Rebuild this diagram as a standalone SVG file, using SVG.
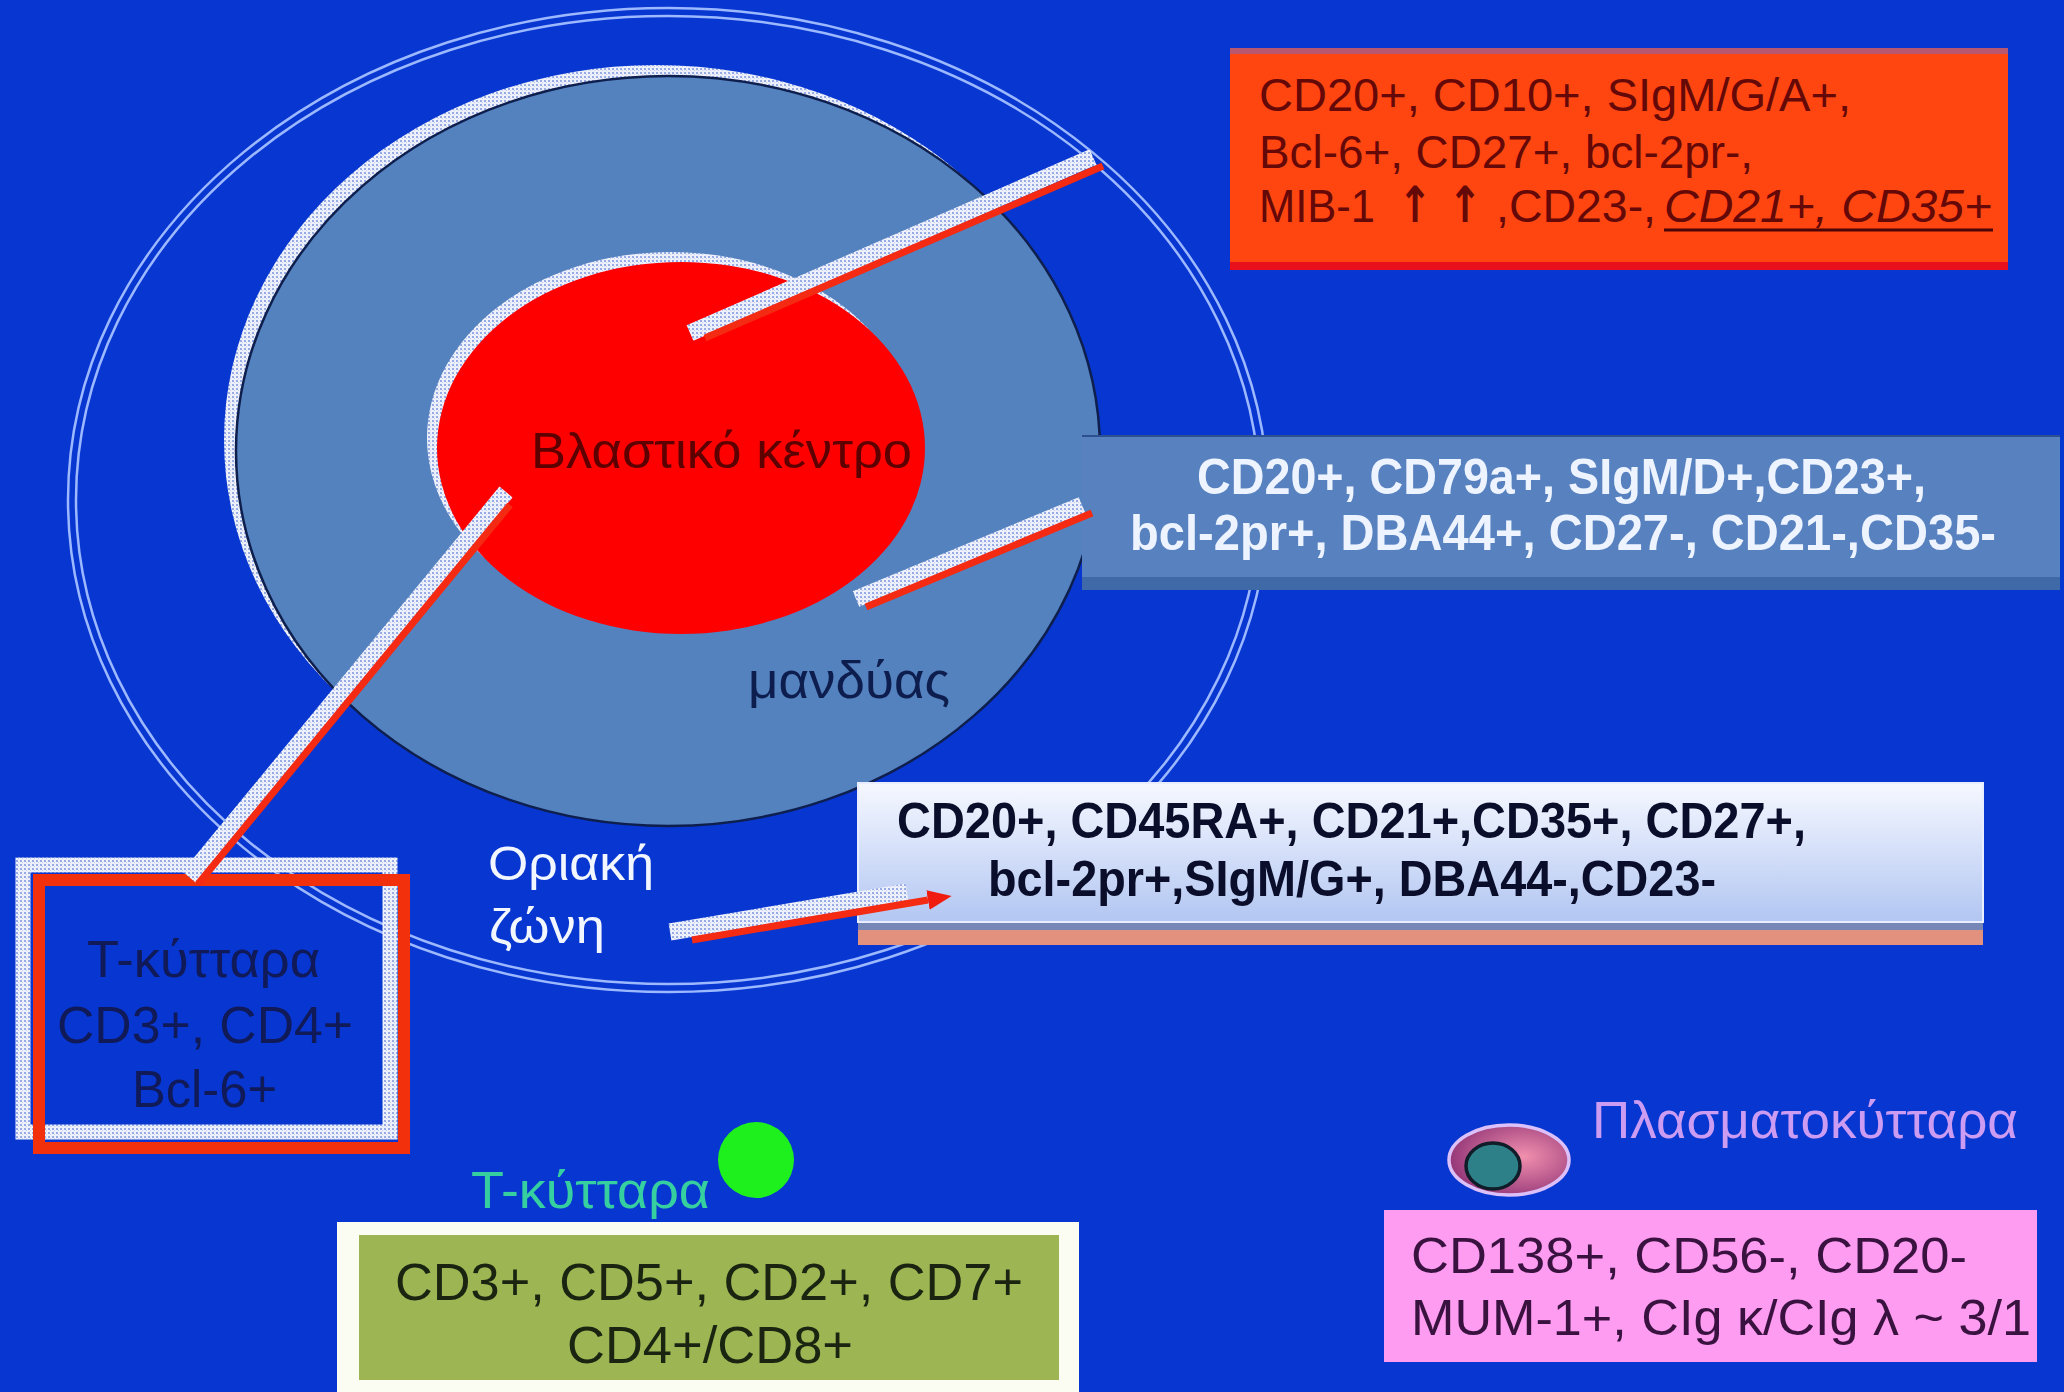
<svg xmlns="http://www.w3.org/2000/svg" width="2064" height="1392" viewBox="0 0 2064 1392">
  <defs>
    <!-- speckled white fill used for the raised "shadow" rims and connector bands -->
    <pattern id="hatch" width="4" height="4" patternUnits="userSpaceOnUse">
      <rect width="4" height="4" fill="#eef1fc"/>
      <rect width="2" height="2" fill="#98ace4"/>
      <rect x="2" y="2" width="1" height="1" fill="#c4cff2"/>
    </pattern>
    <linearGradient id="paleBlue" x1="0" y1="0" x2="0" y2="1">
      <stop offset="0" stop-color="#f6f8ff"/>
      <stop offset="1" stop-color="#b2c6f2"/>
    </linearGradient>
    <radialGradient id="plasmaBody" cx="0.62" cy="0.45" r="0.6">
      <stop offset="0" stop-color="#f290ae"/>
      <stop offset="1" stop-color="#983a7a"/>
    </radialGradient>
    <marker id="head" markerUnits="userSpaceOnUse" markerWidth="26" markerHeight="22" refX="0" refY="10" orient="auto">
      <path d="M0,0 L24,10 L0,20 Z" fill="#f01c10"/>
    </marker>
  </defs>
  <style>
    text { font-family: "Liberation Sans", Arial, "DejaVu Sans", sans-serif; }
    .halo { stroke: url(#hatch); stroke-width: 17; fill: none; }
    .wire { stroke: #f42a12; stroke-width: 7; fill: none; }
    .ring { fill: none; stroke: #9cb8ff; stroke-width: 2.5; }
    .gcText { fill: #5c0000; font-size: 50px; }
    .orangeText { fill: #640808; font-size: 46px; }
    .arrowUp { fill: #640808; font-family: "DejaVu Sans", sans-serif; font-size: 50px; font-weight: bold; }
    .mantleText { fill: #eef4ff; font-size: 50px; font-weight: bold; }
    .mzText { fill: #0a0e2a; font-size: 50px; font-weight: bold; }
    .tText { fill: #101a58; font-size: 52px; }
    .greenText { fill: #1a2410; font-size: 52px; }
    .pinkText { fill: #3a1240; font-size: 50px; }
    .zoneText { fill: #f2f6ff; font-size: 48px; }
  </style>

  <!-- backdrop -->
  <rect width="2064" height="1392" fill="#0836d0"/>

  <!-- follicle: marginal zone ring, mantle, germinal centre -->
  <g id="marginal-zone">
    <ellipse class="ring" cx="668" cy="500" rx="592" ry="484"/>
    <ellipse class="ring" cx="668" cy="500" rx="600" ry="492"/>
  </g>
  <g id="mantle">
    <ellipse cx="656" cy="440" rx="432" ry="375" fill="url(#hatch)"/>
    <ellipse cx="668" cy="451" rx="432" ry="375" fill="#5482be" stroke="#0e1f4e" stroke-width="2.5"/>
  </g>
  <g id="germinal-centre">
    <ellipse cx="671" cy="438" rx="244" ry="186" fill="url(#hatch)"/>
    <ellipse cx="681" cy="448" rx="244" ry="186" fill="#fe0000"/>
    <text class="gcText" x="531" y="468" textLength="381" lengthAdjust="spacingAndGlyphs">Βλαστικό κέντρο</text>
  </g>
  <g id="mantle-label">
    <text x="748" y="698" fill="#0d1d4d" font-size="52" textLength="202" lengthAdjust="spacingAndGlyphs">μανδύας</text>
  </g>
  <g id="zone-label">
    <text class="zoneText" x="488" y="880" textLength="166" lengthAdjust="spacingAndGlyphs">Οριακή</text>
    <text class="zoneText" x="489" y="943" textLength="116" lengthAdjust="spacingAndGlyphs">ζώνη</text>
  </g>

  <!-- germinal centre phenotype -->
  <g id="gc-box">
    <rect x="1230" y="48" width="778" height="222" fill="#ff4510"/>
    <rect x="1230" y="48" width="778" height="6" fill="#b85870"/>
    <rect x="1230" y="262" width="778" height="8" fill="#e8101c"/>
    <text class="orangeText" x="1259" y="111" textLength="592" lengthAdjust="spacingAndGlyphs">CD20+, CD10+, SIgM/G/A+,</text>
    <text class="orangeText" x="1259" y="168" textLength="494" lengthAdjust="spacingAndGlyphs">Bcl-6+, CD27+, bcl-2pr-,</text>
    <text class="orangeText" x="1259" y="222" textLength="116" lengthAdjust="spacingAndGlyphs">MIB-1</text>
    <text class="arrowUp" x="1398" y="222" textLength="34" lengthAdjust="spacingAndGlyphs">↑</text>
    <text class="arrowUp" x="1448" y="222" textLength="34" lengthAdjust="spacingAndGlyphs">↑</text>
    <text class="orangeText" x="1496" y="222" textLength="160" lengthAdjust="spacingAndGlyphs">,CD23-,</text>
    <text class="orangeText" x="1664" y="222" font-style="italic" textLength="328" lengthAdjust="spacingAndGlyphs">CD21+, CD35+</text>
    <line x1="1664" y1="230" x2="1993" y2="230" stroke="#4a0606" stroke-width="3"/>
  </g>

  <!-- mantle phenotype -->
  <g id="mantle-box">
    <rect x="1082" y="435" width="978" height="155" fill="#4069a8"/>
    <rect x="1082" y="435" width="978" height="142" fill="#5781bf"/>
    <line x1="1082" y1="436" x2="2060" y2="436" stroke="#2d5090" stroke-width="2"/>
    <text class="mantleText" x="1197" y="494" textLength="729" lengthAdjust="spacingAndGlyphs">CD20+, CD79a+, SIgM/D+,CD23+,</text>
    <text class="mantleText" x="1130" y="550" textLength="866" lengthAdjust="spacingAndGlyphs">bcl-2pr+, DBA44+, CD27-, CD21-,CD35-</text>
  </g>

  <!-- marginal zone phenotype -->
  <g id="marginal-box">
    <rect x="858" y="783" width="1125" height="162" fill="#e3917f"/>
    <rect x="858" y="783" width="1125" height="147" fill="#7686b6"/>
    <rect x="858" y="783" width="1125" height="139" fill="url(#paleBlue)" stroke="#e8eeff" stroke-width="2"/>
    <text class="mzText" x="897" y="838" textLength="909" lengthAdjust="spacingAndGlyphs">CD20+, CD45RA+, CD21+,CD35+, CD27+,</text>
    <text class="mzText" x="988" y="896" textLength="728" lengthAdjust="spacingAndGlyphs">bcl-2pr+,SIgM/G+, DBA44-,CD23-</text>
  </g>

  <!-- follicular helper T cells -->
  <g id="tfh-box">
    <rect x="23" y="865" width="367" height="267" fill="none" stroke="url(#hatch)" stroke-width="15"/>
    <rect x="39" y="880" width="365" height="268" fill="none" stroke="#f2300c" stroke-width="12"/>
    <text class="tText" x="87" y="977" textLength="233" lengthAdjust="spacingAndGlyphs">T-κύτταρα</text>
    <text class="tText" x="57" y="1043" textLength="296" lengthAdjust="spacingAndGlyphs">CD3+, CD4+</text>
    <text class="tText" x="132" y="1107" textLength="145" lengthAdjust="spacingAndGlyphs">Bcl-6+</text>
  </g>

  <!-- T cells -->
  <g id="t-cells">
    <ellipse cx="756" cy="1160" rx="38" ry="38" fill="#1ef01e"/>
    <text x="471" y="1208" fill="#36cfa0" font-size="52" textLength="239" lengthAdjust="spacingAndGlyphs">T-κύτταρα</text>
  </g>
  <g id="t-cell-box">
    <rect x="337" y="1222" width="742" height="175" fill="#fbfcf2"/>
    <rect x="359" y="1235" width="700" height="145" fill="#9db553"/>
    <text class="greenText" x="395" y="1300" textLength="628" lengthAdjust="spacingAndGlyphs">CD3+, CD5+, CD2+, CD7+</text>
    <text class="greenText" x="567" y="1363" textLength="286" lengthAdjust="spacingAndGlyphs">CD4+/CD8+</text>
  </g>

  <!-- plasma cells -->
  <g id="plasma-cell">
    <ellipse cx="1509" cy="1160" rx="60" ry="35" fill="url(#plasmaBody)" stroke="#dcc0fa" stroke-width="3.5"/>
    <ellipse cx="1493" cy="1166" rx="27" ry="23" fill="#2e8088" stroke="#101c28" stroke-width="3.5"/>
    <text x="1592" y="1138" fill="#cc9cf2" font-size="52" textLength="426" lengthAdjust="spacingAndGlyphs">Πλασματοκύτταρα</text>
  </g>
  <g id="plasma-box">
    <rect x="1384" y="1210" width="653" height="152" fill="#fd9cf0"/>
    <text class="pinkText" x="1411" y="1273" textLength="556" lengthAdjust="spacingAndGlyphs">CD138+, CD56-, CD20-</text>
    <text class="pinkText" x="1411" y="1335" textLength="620" lengthAdjust="spacingAndGlyphs">MUM-1+, CIg κ/CIg λ ~ 3/1</text>
  </g>

  <!-- callout connectors: speckled band with a red line along its lower edge -->
  <g id="connectors">
    <line class="halo" x1="690" y1="333" x2="1093" y2="157"/>
    <line class="wire" x1="705" y1="338" x2="1103" y2="166"/>

    <line class="halo" x1="506" y1="492" x2="189" y2="877"/>
    <line class="wire" x1="510" y1="505" x2="198" y2="884"/>

    <line class="halo" x1="856" y1="599" x2="1082" y2="505"/>
    <line class="wire" x1="866" y1="607" x2="1092" y2="513"/>

    <line class="halo" x1="670" y1="932" x2="907" y2="892"/>
    <line class="wire" x1="692" y1="940" x2="928" y2="900" marker-end="url(#head)"/>
  </g>
</svg>
